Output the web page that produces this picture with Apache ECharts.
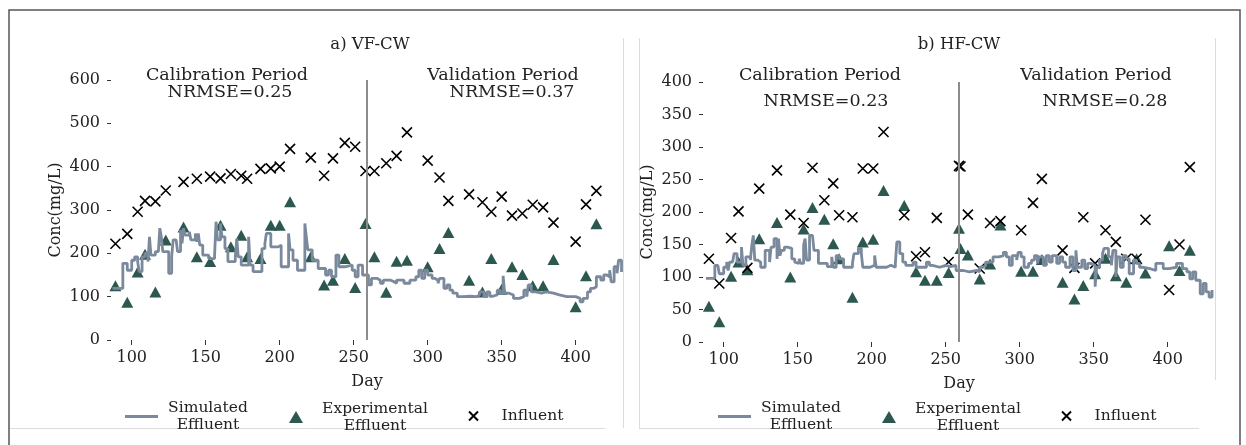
<!DOCTYPE html>
<html>
<head>
<meta charset="utf-8">
<script src="https://cdn.jsdelivr.net/npm/echarts@6.0.0/dist/echarts.min.js"></script>
<style>
  html, body { margin: 0; padding: 0; background: #fff; }
  #chart { width: 1246px; height: 445px; }
</style>
</head>
<body>
<div id="chart"></div>
<script>
// ---- data ----
const xTicks = [100, 150, 200, 250, 300, 350, 400];
const dayMin = 86;
const dayMax = 432;
const splitDay = 259;

// a) VF-CW
const vfSampleDays = [89, 97, 104, 109, 116, 123, 135, 144, 153, 160, 167, 174, 178, 187, 194, 200, 207, 221, 230, 236, 244, 251, 258, 264, 272, 279, 286, 300, 308, 314, 328, 337, 343, 350, 357, 364, 371, 378, 385, 400, 407, 414];
const vfInfluent = [222, 245, 296, 321, 320, 345, 365, 372, 377, 373, 383, 379, 372, 395, 396, 400, 441, 421, 379, 419, 455, 446, 390, 390, 408, 425, 479, 414, 375, 321, 336, 318, 296, 331, 287, 292, 312, 306, 271, 227, 313, 344];
const vfExperimental = [125, 87, 157, 198, 111, 231, 261, 192, 181, 265, 215, 242, 192, 188, 265, 265, 319, 192, 127, 138, 188, 121, 269, 192, 110, 182, 184, 169, 211, 248, 138, 111, 188, 117, 169, 151, 125, 125, 186, 77, 148, 268];
const vfSimDays = [87, 94, 97, 100, 102, 104, 105, 107, 109, 111, 112, 113, 116, 118, 119, 120, 121, 125, 127, 128, 130, 131, 133, 134, 135, 136, 139, 140, 143, 144, 145, 146, 148, 152, 156, 157, 158, 160, 161, 163, 165, 170, 171, 172, 174, 179, 180, 182, 188, 190, 191, 194, 199, 201, 206, 207, 209, 212, 217, 218, 219, 222, 226, 231, 233, 235, 238, 240, 244, 249, 251, 253, 256, 260, 262, 266, 268, 270, 275, 277, 279, 284, 288, 292, 294, 296, 298, 300, 303, 305, 307, 308, 311, 313, 315, 317, 320, 324, 329, 333, 335, 338, 340, 342, 344, 347, 349, 351, 352, 355, 358, 362, 365, 367, 368, 370, 373, 377, 380, 385, 389, 394, 400, 403, 405, 408, 410, 412, 414, 417, 419, 421, 423, 424, 426, 428, 429, 431];
const vfSimulated = [119, 177, 161, 184, 192, 181, 158, 192, 200, 181, 238, 196, 204, 200, 258, 238, 204, 154, 192, 231, 234, 204, 254, 223, 258, 242, 250, 231, 246, 227, 246, 219, 196, 188, 196, 273, 231, 269, 238, 211, 181, 192, 234, 192, 173, 238, 173, 158, 211, 223, 246, 215, 219, 169, 246, 208, 184, 161, 269, 238, 208, 184, 165, 150, 161, 146, 196, 169, 173, 161, 146, 173, 150, 127, 142, 138, 131, 138, 135, 131, 138, 131, 138, 146, 161, 142, 161, 150, 142, 138, 131, 142, 119, 127, 115, 108, 100, 101, 100, 104, 111, 100, 111, 101, 104, 115, 108, 148, 108, 104, 96, 100, 115, 100, 127, 111, 108, 111, 108, 104, 100, 100, 96, 88, 96, 111, 119, 123, 146, 138, 150, 146, 161, 134, 169, 154, 184, 157];

// b) HF-CW
const hfSampleDays = [90, 97, 105, 110, 116, 124, 136, 145, 154, 160, 168, 174, 178, 187, 194, 201, 208, 222, 230, 236, 244, 252, 259, 260, 265, 273, 280, 287, 301, 309, 315, 329, 337, 343, 351, 358, 365, 372, 379, 385, 401, 408, 415];
const hfInfluent = [128, 90, 160, 201, 114, 236, 264, 196, 183, 268, 218, 244, 195, 192, 267, 267, 323, 195, 132, 138, 191, 123, 271, 270, 196, 113, 183, 186, 172, 214, 251, 141, 114, 192, 121, 172, 154, 128, 128, 188, 80, 150, 269];
const hfExperimental = [55, 31, 101, 123, 111, 159, 184, 100, 174, 207, 189, 151, 128, 69, 154, 158, 233, 210, 108, 95, 95, 107, 175, 144, 134, 97, 120, 180, 109, 109, 127, 92, 66, 87, 105, 129, 102, 92, 128, 106, 148, 110, 141];
const hfSimDays = [88, 94, 96, 97, 100, 102, 103, 104, 106, 107, 109, 112, 113, 115, 118, 119, 120, 121, 123, 125, 128, 131, 132, 134, 136, 137, 138, 139, 141, 143, 146, 148, 149, 151, 152, 154, 155, 156, 158, 160, 161, 164, 170, 173, 174, 176, 178, 181, 187, 188, 191, 193, 194, 199, 202, 203, 210, 213, 216, 217, 219, 221, 223, 228, 230, 235, 237, 239, 241, 246, 250, 253, 257, 262, 266, 271, 273, 275, 277, 282, 286, 289, 291, 293, 295, 298, 299, 301, 303, 306, 308, 310, 312, 313, 316, 318, 320, 322, 325, 327, 329, 331, 334, 336, 338, 339, 342, 344, 346, 348, 351, 352, 354, 356, 357, 360, 362, 363, 365, 366, 368, 370, 372, 374, 377, 379, 381, 383, 388, 392, 397, 401, 406, 410, 413, 415, 417, 419, 422, 424, 426, 428, 430];
const hfSimulated = [98, 118, 121, 105, 115, 123, 110, 123, 121, 136, 123, 146, 118, 131, 126, 149, 164, 126, 123, 115, 141, 123, 146, 159, 128, 159, 133, 141, 146, 144, 128, 123, 121, 128, 121, 149, 159, 126, 164, 162, 141, 121, 116, 131, 115, 133, 128, 115, 121, 136, 144, 136, 115, 118, 133, 115, 118, 115, 121, 154, 136, 123, 118, 123, 115, 115, 123, 118, 115, 118, 116, 118, 110, 108, 110, 108, 115, 118, 123, 131, 133, 138, 131, 118, 133, 126, 138, 131, 115, 121, 126, 133, 121, 131, 118, 133, 123, 133, 121, 131, 123, 115, 131, 110, 141, 115, 126, 113, 121, 118, 85, 115, 126, 136, 144, 131, 118, 141, 100, 131, 115, 133, 128, 105, 126, 121, 115, 113, 110, 121, 113, 115, 121, 113, 108, 97, 108, 95, 74, 90, 77, 69, 80];

// ---- styling ----
const font = "DejaVu Serif";
const ink = "#222";
const simColor = "#7a899c";
const expColor = "#2c5850";
const crossPath = "path://M0,0L10,10M10,0L0,10";

const pairs = (xs, ys) => xs.map((x, i) => [x, ys[i]]);

function makeXAxis(gridIndex) {
  return {
    type: "value",
    gridIndex,
    min: dayMin,
    max: dayMax,
    name: "Day",
    nameLocation: "middle",
    nameGap: 34,
    nameTextStyle: { fontFamily: font, fontSize: 16, color: ink },
    axisLine: { show: false },
    splitLine: { show: false },
    axisTick: { show: true, length: 5, lineStyle: { color: "#333" }, customValues: xTicks },
    axisLabel: { customValues: xTicks, fontFamily: font, fontSize: 16, color: ink, margin: 10 },
  };
}

function makeYAxis(gridIndex, max, interval) {
  return {
    type: "value",
    gridIndex,
    min: 0,
    max,
    interval,
    name: "Conc(mg/L)",
    nameLocation: "middle",
    nameGap: 47,
    nameTextStyle: { fontFamily: font, fontSize: 16, color: ink },
    axisLine: { show: false },
    splitLine: { show: false },
    axisTick: { show: true, length: 4, lineStyle: { color: "#333" } },
    axisLabel: { fontFamily: font, fontSize: 16, color: ink, margin: 11 },
  };
}

function makeSeries(axisIndex, simDays, simValues, sampleDays, experimental, influent) {
  return [
    {
      name: "Simulated Effluent",
      type: "line",
      xAxisIndex: axisIndex,
      yAxisIndex: axisIndex,
      step: "end",
      symbol: "none",
      lineStyle: { color: simColor, width: 2.8 },
      itemStyle: { color: simColor },
      data: pairs(simDays, simValues),
    },
    {
      name: "Experimental Effluent",
      type: "scatter",
      xAxisIndex: axisIndex,
      yAxisIndex: axisIndex,
      symbol: "triangle",
      symbolSize: [12, 11],
      itemStyle: { color: expColor, opacity: 1 },
      data: pairs(sampleDays, experimental),
    },
    {
      name: "Influent",
      type: "scatter",
      xAxisIndex: axisIndex,
      yAxisIndex: axisIndex,
      symbol: crossPath,
      symbolSize: 10,
      itemStyle: { color: "#000", borderColor: "#000", borderWidth: 1.6, opacity: 1 },
      data: pairs(sampleDays, influent),
      markLine: {
        silent: true,
        symbol: ["none", "none"],
        label: { show: false },
        lineStyle: { color: "#8c8c8c", width: 2, type: "solid", opacity: 1 },
        data: [{ xAxis: splitDay }],
      },
    },
  ];
}

function legendText(width) {
  return { rich: { t: { width, align: "center", fontFamily: font, fontSize: 15.5, lineHeight: 17, color: ink } } };
}

function makeLegends(offset) {
  const common = { orient: "horizontal", padding: 0, selectedMode: false };
  return [
    {
      ...common,
      data: [{ name: "Simulated Effluent", icon: "rect" }],
      left: 125 + offset,
      top: 400,
      itemWidth: 33,
      itemHeight: 3,
      formatter: () => "{t|Simulated}\n{t|Effluent}",
      textStyle: legendText(90),
    },
    {
      ...common,
      data: ["Experimental Effluent"],
      left: 289 + offset,
      top: 400.5,
      itemWidth: 14,
      itemHeight: 12,
      formatter: () => "{t|Experimental}\n{t|Effluent}",
      textStyle: legendText(134),
    },
    {
      ...common,
      data: ["Influent"],
      left: 468 + offset,
      top: 408,
      itemWidth: 12,
      itemHeight: 9,
      formatter: () => "{t|Influent}",
      textStyle: legendText(96),
    },
  ];
}

function label(text, x, y, size) {
  return {
    type: "text",
    x,
    y,
    style: { text, fill: ink, font: `${size}px "${font}"`, align: "center", verticalAlign: "middle" },
  };
}

function rule(x1, y1, x2, y2, color, width) {
  return { type: "line", shape: { x1, y1, x2, y2 }, style: { stroke: color, lineWidth: width } };
}

const chart = echarts.init(document.getElementById("chart"), null, { renderer: "canvas" });

chart.setOption({
  animation: false,
  backgroundColor: "#fff",
  grid: [
    { left: 111, top: 80, width: 512, height: 260 },
    { left: 703, top: 82, width: 512, height: 260 },
  ],
  xAxis: [makeXAxis(0), makeXAxis(1)],
  yAxis: [makeYAxis(0, 600, 100), makeYAxis(1, 400, 50)],
  legend: [...makeLegends(0), ...makeLegends(593)],
  series: [
    ...makeSeries(0, vfSimDays, vfSimulated, vfSampleDays, vfExperimental, vfInfluent),
    ...makeSeries(1, hfSimDays, hfSimulated, hfSampleDays, hfExperimental, hfInfluent),
  ],
  graphic: [
    // outer frame + faint panel edges
    { type: "rect", shape: { x: 9, y: 10, width: 1231, height: 460 }, style: { fill: "none", stroke: "#555", lineWidth: 1.5 } },
    rule(623.5, 38, 623.5, 428, "#dcdcdc", 1),
    rule(10, 428.5, 605, 428.5, "#dcdcdc", 1),
    rule(639.5, 38, 639.5, 428, "#dcdcdc", 1),
    rule(639, 428.5, 1199, 428.5, "#dcdcdc", 1),
    rule(1215.5, 38, 1215.5, 380, "#dcdcdc", 1),
    // titles and annotations
    label("a) VF-CW", 370, 45, 16.5),
    label("b) HF-CW", 959, 45, 16.5),
    label("Calibration Period", 227, 75, 17.5),
    label("NRMSE=0.25", 230, 92, 17.5),
    label("Validation Period", 503, 75, 17.5),
    label("NRMSE=0.37", 512, 92, 17.5),
    label("Calibration Period", 820, 75, 17.5),
    label("NRMSE=0.23", 826, 101, 17.5),
    label("Validation Period", 1096, 75, 17.5),
    label("NRMSE=0.28", 1105, 101, 17.5),
  ],
});
</script>
</body>
</html>
